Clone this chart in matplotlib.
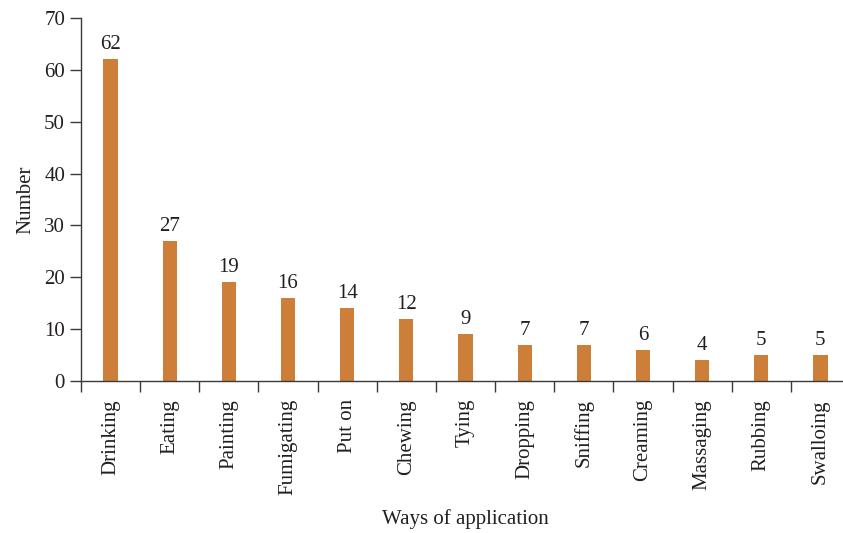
import numpy as np
import matplotlib
matplotlib.use("Agg")
import matplotlib.pyplot as plt

categories = ["Drinking", "Eating", "Painting", "Fumigating", "Put on", "Chewing",
              "Tying", "Dropping", "Sniffing", "Creaming", "Massaging", "Rubbing", "Swalloing"]
counts = [62, 27, 19, 16, 14, 12, 9, 7, 7, 6, 4, 5, 5]

plt.rcParams["font.family"] = ["Liberation Serif", "DejaVu Serif"]
FS = 15

fig = plt.figure(figsize=(8.43, 5.33), dpi=100)
ax = fig.add_axes([81 / 843, 152 / 533, 769 / 843, 363 / 533])

x = np.arange(len(categories))
ax.bar(x, counts, width=0.24, color="#CD7F3A", zorder=2)
for xi, v in zip(x, counts):
    ax.text(xi, v + 1.0, str(v), ha="center", va="bottom", fontsize=FS, color="#231f20")

ax.set_xlim(-0.5, len(categories) - 0.5)
ax.set_ylim(0, 70)
ax.set_yticks(range(0, 71, 10))

ax.set_xticks(x)
ax.set_xticklabels(categories, rotation=90, fontsize=FS, color="#231f20")
ax.set_xticks(np.arange(-0.5, len(categories), 1), minor=True)
ax.tick_params(axis="x", which="major", length=0, pad=13)
ax.tick_params(axis="x", which="minor", length=8, width=1, color="#3a3a3a")
ax.tick_params(axis="y", length=8, width=1, color="#3a3a3a", labelsize=FS, labelcolor="#231f20")

for side in ["top", "right"]:
    ax.spines[side].set_visible(False)
for side in ["left", "bottom"]:
    ax.spines[side].set_color("#3a3a3a")
    ax.spines[side].set_linewidth(1)

ax.set_ylabel("Number", fontsize=FS, color="#231f20", labelpad=6)
ax.set_xlabel("Ways of application", fontsize=FS, color="#231f20", labelpad=10)

fig.savefig("out.png", dpi=100)
